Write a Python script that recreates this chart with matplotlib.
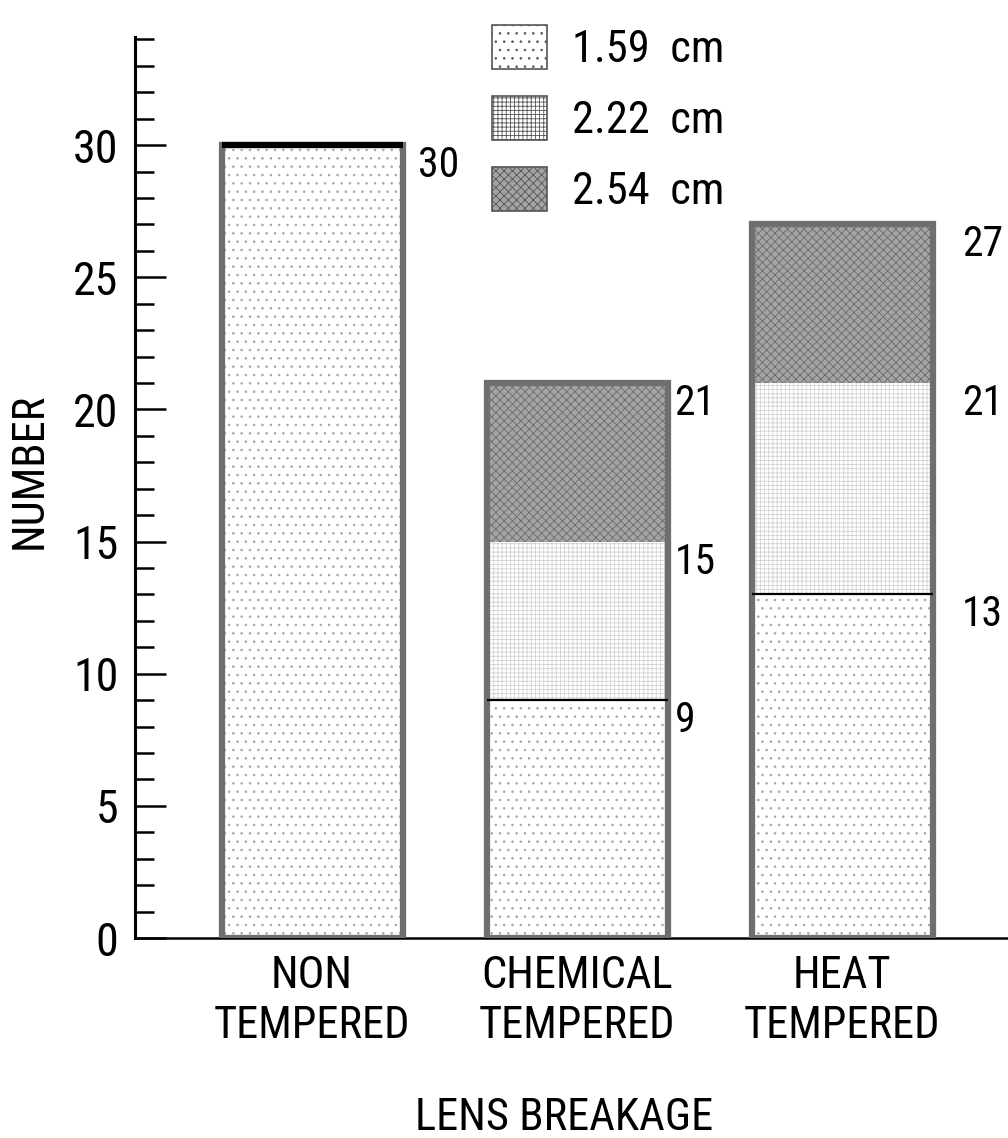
import matplotlib
matplotlib.use("Agg")
import matplotlib.pyplot as plt
from matplotlib.patches import Patch
from matplotlib.ticker import MultipleLocator
import numpy as np

FONT = ["Roboto Condensed", "DejaVu Sans"]
plt.rcParams["font.family"] = FONT
plt.rcParams["hatch.linewidth"] = 0.6

# data
categories = ["NON\nTEMPERED", "CHEMICAL\nTEMPERED", "HEAT\nTEMPERED"]
sizes = ["1.59  cm", "2.22  cm", "2.54  cm"]
n_159 = [30, 9, 13]
n_222 = [0, 6, 8]
n_254 = [0, 6, 6]

# look of each lens size
FACES = ["white", "white", "#a4a4a4"]
HATCHES = ["..", "++++", "xxxx"]
HATCH_COLORS = ["#a6a6a6", "#d2d2d2", "#6a6a6a"]
BORDER = "#6f6f6f"
label_gap = [11, 5, 21]  # points right of each bar

fig = plt.figure(figsize=(10.08, 11.38), dpi=100)
ax = fig.add_axes([135 / 1008, 1 - 938 / 1138, 873 / 1008, 34.1 * 26.43 / 1138])

x = np.arange(len(categories))
width = 0.683
series = [np.array(n_159), np.array(n_222), np.array(n_254)]
bottom = np.zeros(len(categories))
for vals, face, hatch, hc in zip(series, FACES, HATCHES, HATCH_COLORS):
    ax.bar(x, vals, width, bottom=bottom, color=face, hatch=hatch,
           edgecolor=hc, linewidth=0, zorder=2)
    bottom = bottom + vals
totals = bottom

# outline of every bar
ax.bar(x, totals, width, fill=False, edgecolor=BORDER, linewidth=4.5, zorder=3)

# thin black line where 1.59 cm ends and 2.22 cm starts
for xi, a, b in zip(x, n_159, n_222):
    if b > 0:
        ax.hlines(a, xi - width / 2, xi + width / 2, color="black", lw=1.6, zorder=4)
# heavy top edge on the all-1.59 bar
for xi, a, b, c in zip(x, n_159, n_222, n_254):
    if b == 0 and c == 0:
        ax.hlines(a, xi - width / 2, xi + width / 2, color="black", lw=4.5, zorder=5)

# values at each segment boundary
for xi, a, b, c, gap in zip(x, n_159, n_222, n_254, label_gap):
    levels = [a]
    if b > 0:
        levels.append(a + b)
    if c > 0:
        levels.append(a + b + c)
    for lv in levels:
        ax.annotate(str(lv), (xi + width / 2, lv), xytext=(gap, 0),
                    textcoords="offset points", ha="left", va="top",
                    fontsize=30, zorder=6)

ax.set_xlim(-0.668, 2.626)
ax.set_ylim(0, 34.1)
ax.yaxis.set_major_locator(MultipleLocator(5))
ax.yaxis.set_minor_locator(MultipleLocator(1))
ax.tick_params(axis="y", which="major", direction="in", length=22, width=1.8,
               labelsize=33, pad=12)
ax.tick_params(axis="y", which="minor", direction="in", length=14, width=1.8)
ax.set_xticks(x)
ax.set_xticklabels(categories, fontsize=32, linespacing=1.25)
ax.tick_params(axis="x", length=0, pad=12)

for s in ["top", "right"]:
    ax.spines[s].set_visible(False)
ax.spines["left"].set_linewidth(2.2)
ax.spines["bottom"].set_linewidth(1.8)

ax.set_ylabel("NUMBER", fontsize=32)
ax.yaxis.set_label_coords(-0.097, 0.518)
ax.set_xlabel("LENS BREAKAGE", fontsize=32, va="top")
ax.xaxis.set_label_coords(0.491, -0.176)

handles = [Patch(facecolor=f, hatch=h, edgecolor=hc, linewidth=0)
           for f, h, hc in zip(FACES, HATCHES, HATCH_COLORS)]
leg = fig.legend(handles, sizes, loc="upper left",
                 bbox_to_anchor=(492 / 1008, 1 - 25 / 1138), frameon=False,
                 fontsize=32, handlelength=1.24, handleheight=1.15,
                 handletextpad=0.56, labelspacing=0.56, borderpad=0,
                 borderaxespad=0)
for p in leg.get_patches():
    p.set_linewidth(1.2)
    p.set_edgecolor("#555555")

fig.savefig("out.png", dpi=100, facecolor="white")
